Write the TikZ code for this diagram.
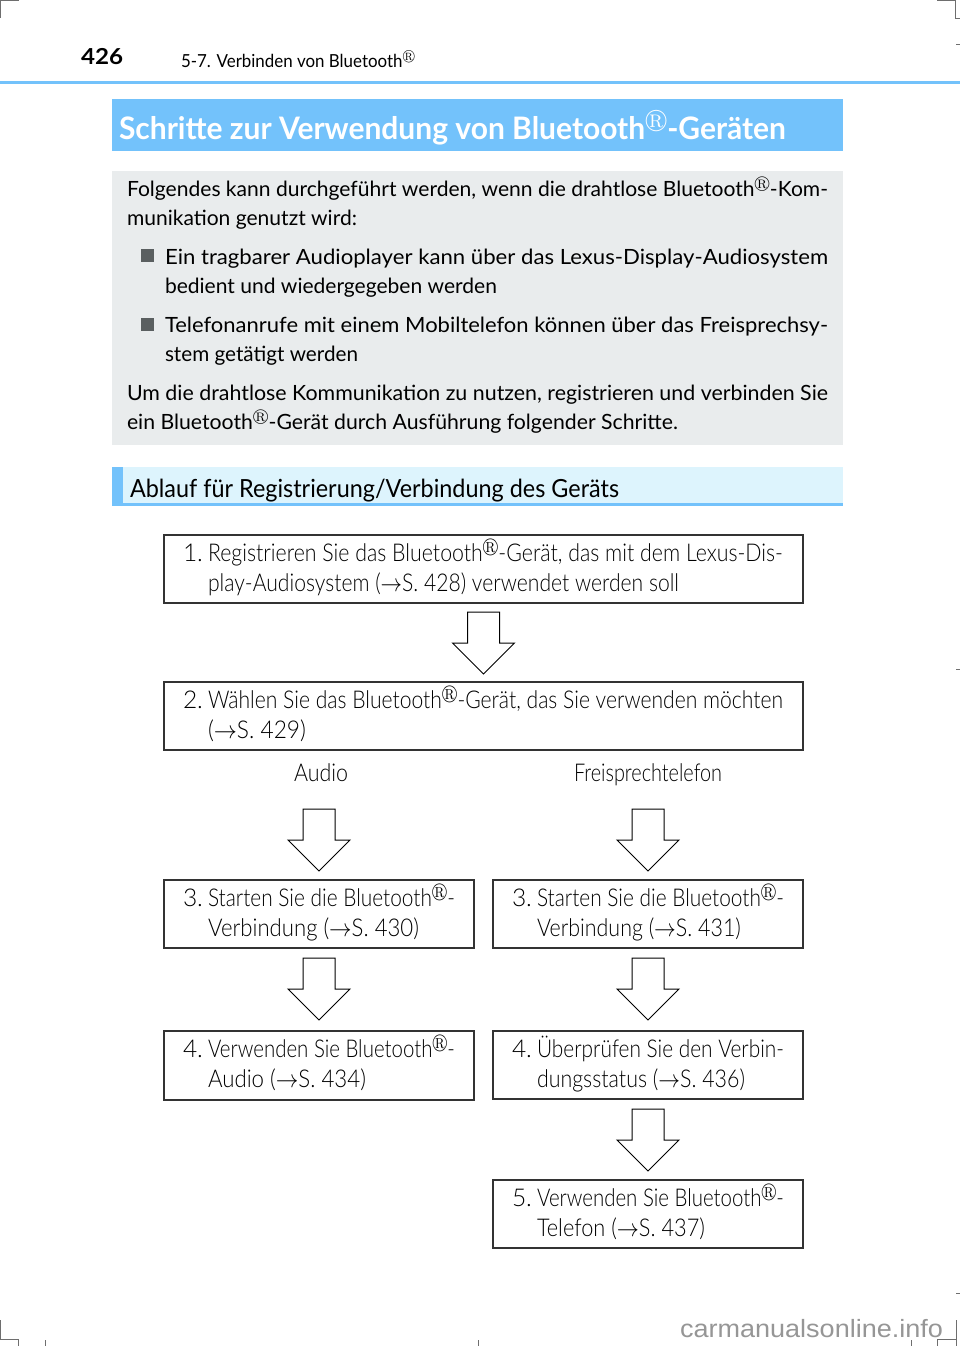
\documentclass[tikz,border=0pt]{standalone}
\usepackage{fontspec}
\usepackage{graphicx}
\usepackage{amssymb}
\setmainfont{Lato}
\newfontfamily\lightfont{Lato Light}
\newfontfamily\wmfont{Liberation Sans}
\definecolor{skyb}{RGB}{115,194,251}
\definecolor{lightb}{RGB}{221,244,253}
\definecolor{greybg}{RGB}{233,236,237}
\definecolor{bulletc}{RGB}{90,95,96}
\definecolor{framec}{RGB}{51,51,51}
\definecolor{cropc}{RGB}{110,110,110}
\definecolor{wmc}{RGB}{150,150,150}
\newcommand{\fitw}[2]{\resizebox{#1pt}{\height}{#2}}
\newcommand{\regm}{\raisebox{0.36em}{\scalebox{0.78}{$\circledR$}}}
\newcommand{\pto}{$\rightarrow$}
\tikzset{
  txt/.style={inner sep=0pt, outer sep=0pt, anchor=base west},
  greytxt/.style={txt, font=\fontsize{21}{25}\selectfont, text=black},
  boxtxt/.style={txt, font=\lightfont\fontsize{24.5}{30}\selectfont, text=black},
  flowbox/.style={draw=framec, line width=1.2pt, fill=white, anchor=north west, inner sep=0pt, outer sep=0pt},
  blockarr/.style={draw=black, line width=1pt, fill=white, line join=miter},
  crop/.style={draw=cropc, line width=0.8pt}
}
\newcommand{\hollowdown}[1]{\draw[blockarr] (#1) ++(-16,0) -- ++(32,0) -- ++(0,31) -- ++(15,0) -- ++(-31,31) -- ++(-31,-31) -- ++(15,0) -- cycle;}
\begin{document}
\begin{tikzpicture}[x=1pt,y=-1pt]
\useasboundingbox (0,0) rectangle (960,1346);
\fill[white] (0,0) rectangle (960,1346);

% crop marks
\draw[crop] (0.5,18) -- (0.5,0.5) -- (19,0.5);
\draw[crop] (937,0.5) -- (955,0.5) -- (955,18) -- (960,18);
\draw[crop] (956,44) -- (960,44);
\draw[crop] (956,669) -- (960,669);
\draw[crop] (956,1293) -- (960,1293);
\draw[crop] (0.5,1320) -- (0.5,1339) -- (18,1339) -- (18,1346);
\draw[crop] (45,1340) -- (45,1346);
\draw[crop] (478,1340) -- (478,1346);
\draw[crop] (911,1340) -- (911,1346);
\draw[crop] (956,1320) -- (956,1346);
\draw[crop] (937,1346) -- (937,1339) -- (956,1339);

% header
\node[txt, font=\bfseries\fontsize{22}{26}\selectfont] (pagenum) at (81,65) {\fitw{42}{426}};
\node[txt, font=\fontsize{18}{22}\selectfont] (chapter) at (181,67) {\fitw{234}{5-7. Verbinden von Bluetooth\regm}};
\fill[skyb] (0,80.5) rectangle (960,83.5);

% title bar
\fill[skyb] (112,99) rectangle (843,151);
\node[txt, text=white, font=\bfseries\fontsize{31}{36}\selectfont] (title) at (119,139) {\fitw{667}{Schritte zur Verwendung von Bluetooth\regm-Geräten}};

% grey box
\fill[greybg] (112,171) rectangle (843,445);
\node[greytxt] (g1) at (127,196) {\fitw{701}{Folgendes kann durchgeführt werden, wenn die drahtlose Bluetooth\regm-Kom-}};
\node[greytxt] (g2) at (127,225) {\fitw{230}{munikation genutzt wird:}};
\fill[bulletc] (141,249) rectangle (154,262);
\node[greytxt] (g3) at (165,264) {\fitw{663}{Ein tragbarer Audioplayer kann über das Lexus-Display-Audiosystem}};
\node[greytxt] (g4) at (165,293) {\fitw{332}{bedient und wiedergegeben werden}};
\fill[bulletc] (141,318) rectangle (154,331);
\node[greytxt] (g5) at (165,332) {\fitw{663}{Telefonanrufe mit einem Mobiltelefon können über das Freisprechsy-}};
\node[greytxt] (g6) at (165,361) {\fitw{193}{stem getätigt werden}};
\node[greytxt] (g7) at (127,400) {\fitw{701}{Um die drahtlose Kommunikation zu nutzen, registrieren und verbinden Sie}};
\node[greytxt] (g8) at (127,429) {\fitw{551}{ein Bluetooth\regm-Gerät durch Ausführung folgender Schritte.}};

% subheading
\fill[lightb] (112,467) rectangle (843,505);
\fill[skyb] (112,467) rectangle (123,505);
\fill[skyb] (112,503) rectangle (843,505.5);
\node[txt, font=\fontsize{25}{30}\selectfont] (sub) at (130,497) {\fitw{489}{Ablauf für Registrierung/Verbindung des Geräts}};

% flow boxes
\node[flowbox, minimum width=639pt, minimum height=68pt] (b1) at (164,535) {};
\node[flowbox, minimum width=639pt, minimum height=68pt] (b2) at (164,682) {};
\node[flowbox, minimum width=310pt, minimum height=68pt] (b3l) at (164,880) {};
\node[flowbox, minimum width=310pt, minimum height=68pt] (b3r) at (493,880) {};
\node[flowbox, minimum width=310pt, minimum height=69pt] (b4l) at (164,1031) {};
\node[flowbox, minimum width=310pt, minimum height=68pt] (b4r) at (493,1031) {};
\node[flowbox, minimum width=310pt, minimum height=68pt] (b5) at (493,1180) {};

% box texts
\node[boxtxt] (b1n) at (183,561) {1.};
\node[boxtxt] (b1a) at (208,561) {\fitw{575}{Registrieren Sie das Bluetooth\regm-Gerät, das mit dem Lexus-Dis-}};
\node[boxtxt] (b1b) at (208,591) {\fitw{471}{play-Audiosystem (\pto S. 428) verwendet werden soll}};

\node[boxtxt] (b2n) at (183,708) {2.};
\node[boxtxt] (b2a) at (208,708) {\fitw{575}{Wählen Sie das Bluetooth\regm-Gerät, das Sie verwenden möchten}};
\node[boxtxt] (b2b) at (208,738) {\fitw{98}{(\pto S. 429)}};

\node[boxtxt] (audio) at (294,781) {\fitw{54}{Audio}};
\node[boxtxt] (freisp) at (574,781) {\fitw{148}{Freisprechtelefon}};

\node[boxtxt] (b3ln) at (183,906) {3.};
\node[boxtxt] (b3la) at (208,906) {\fitw{247}{Starten Sie die Bluetooth\regm-}};
\node[boxtxt] (b3lb) at (208,936) {\fitw{211}{Verbindung (\pto S. 430)}};

\node[boxtxt] (b3rn) at (512,906) {3.};
\node[boxtxt] (b3ra) at (537,906) {\fitw{247}{Starten Sie die Bluetooth\regm-}};
\node[boxtxt] (b3rb) at (537,936) {\fitw{204}{Verbindung (\pto S. 431)}};

\node[boxtxt] (b4ln) at (183,1057) {4.};
\node[boxtxt] (b4la) at (208,1057) {\fitw{247}{Verwenden Sie Bluetooth\regm-}};
\node[boxtxt] (b4lb) at (208,1087) {\fitw{158}{Audio (\pto S. 434)}};

\node[boxtxt] (b4rn) at (512,1057) {4.};
\node[boxtxt] (b4ra) at (537,1057) {\fitw{247}{Überprüfen Sie den Verbin-}};
\node[boxtxt] (b4rb) at (537,1087) {\fitw{208}{dungsstatus (\pto S. 436)}};

\node[boxtxt] (b5n) at (512,1206) {5.};
\node[boxtxt] (b5a) at (537,1206) {\fitw{247}{Verwenden Sie Bluetooth\regm-}};
\node[boxtxt] (b5b) at (537,1236) {\fitw{168}{Telefon (\pto S. 437)}};

% block arrows
\path (b1.south) ++(0,9) coordinate (a1);
\path (b3l.north) ++(0,-71) coordinate (a2l);
\path (b3r.north) ++(0,-71) coordinate (a2r);
\path (b3l.south) ++(0,10) coordinate (a3l);
\path (b3r.south) ++(0,10) coordinate (a3r);
\path (b4r.south) ++(0,10) coordinate (a4r);
\hollowdown{a1}
\hollowdown{a2l}
\hollowdown{a2r}
\hollowdown{a3l}
\hollowdown{a3r}
\hollowdown{a4r}

% watermark
\node[txt, text=wmc, font=\wmfont\fontsize{25}{30}\selectfont] (wm) at (680,1337) {\fitw{263}{carmanualsonline.info}};
\end{tikzpicture}
\end{document}
